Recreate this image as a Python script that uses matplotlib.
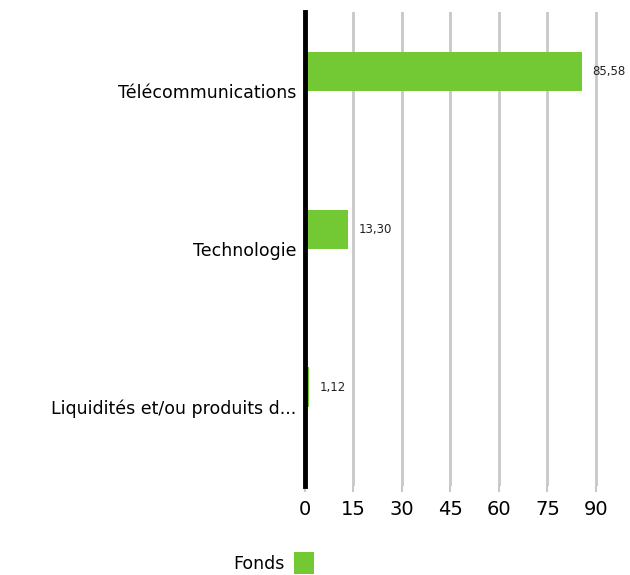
import numpy as np
import matplotlib
matplotlib.use("Agg")
import matplotlib.pyplot as plt

# data
categories = ["Télécommunications", "Technologie", "Liquidités et/ou produits d..."]
values = [85.58, 13.30, 1.12]
labels = ["85,58", "13,30", "1,12"]
xticks = [0, 15, 30, 45, 60, 75, 90]

green = "#72c933"

fig = plt.figure(figsize=(6.3, 5.75), dpi=100)
ax = fig.add_axes([0.4841, 0.1548, 0.4978, 0.8243])

y = np.arange(len(categories))
bars = ax.barh(y - 0.125, values, height=0.25, color=green, label="Fonds", zorder=3)

for b, lab in zip(bars, labels):
    ax.text(b.get_width() + 3.3, b.get_y() + b.get_height() / 2, lab,
            va="center", ha="left", fontsize=8.5, color="#222222", clip_on=False)

ax.set_xlim(0, 97)
ax.set_ylim(2.5, -0.5)
ax.set_yticks(y)
ax.set_yticklabels(categories, fontsize=12.5)
ax.set_xticks(xticks)
ax.set_xticklabels([str(t) for t in xticks], fontsize=14)
ax.tick_params(axis="y", length=0, pad=6)
ax.tick_params(axis="x", length=4, color="#c8c8c8", width=1.5, pad=6)

ax.grid(axis="x", color="#c8c8c8", linewidth=2, zorder=0)
for s in ["top", "right", "bottom"]:
    ax.spines[s].set_visible(False)
ax.spines["left"].set_linewidth(3.5)
ax.spines["left"].set_color("black")
ax.spines["left"].set_zorder(5)

fig.legend(handles=[bars], labels=["Fonds"], loc="center",
           bbox_to_anchor=(0.435, 0.021), frameon=False, markerfirst=False,
           fontsize=12.5, handlelength=1.2, handleheight=1.6, handletextpad=0.5)

fig.savefig("out.png", dpi=100)
